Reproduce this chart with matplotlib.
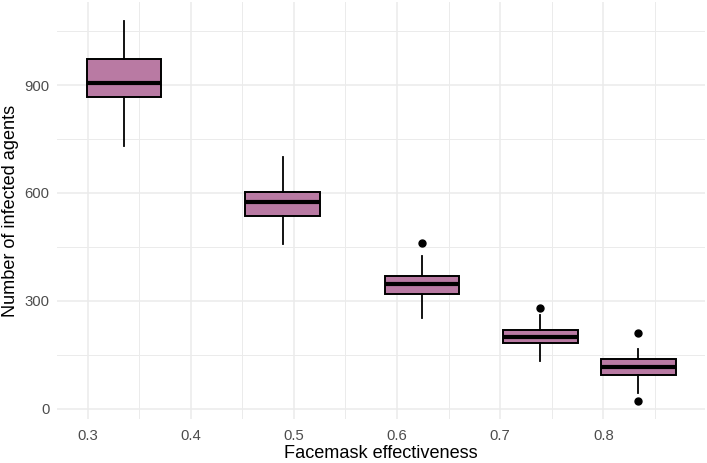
import matplotlib
matplotlib.use('Agg')
import matplotlib.pyplot as plt
import numpy as np

# Boxplot summary values
effectiveness = [0.335, 0.489, 0.624, 0.739, 0.834]
whisker_low = [731, 457, 253, 133, 44]
q1 = [866, 535, 319, 182, 94]
median = [905, 575, 347, 199, 115]
q3 = [972, 602, 368, 218, 137]
whisker_high = [1078, 701, 424, 260, 165]
outliers = [[], [], [462], [279], [211, 23]]

box_width = 0.072
fill_color = '#B97AA3'

plt.rcParams['font.family'] = ['Liberation Sans', 'DejaVu Sans']

stats = []
for i in range(len(effectiveness)):
    stats.append({
        'med': median[i], 'q1': q1[i], 'q3': q3[i],
        'whislo': whisker_low[i], 'whishi': whisker_high[i],
        'fliers': outliers[i],
    })

fig = plt.figure(figsize=(7.07, 4.63), dpi=100)
ax = fig.add_axes([0.0808, 0.094, 0.9163, 0.9016])

ax.bxp(stats, positions=effectiveness, widths=box_width, patch_artist=True,
       manage_ticks=False,
       boxprops=dict(facecolor=fill_color, edgecolor='black', linewidth=1.4),
       medianprops=dict(color='black', linewidth=3.0, solid_capstyle='butt'),
       whiskerprops=dict(color='black', linewidth=1.3),
       capprops=dict(linewidth=0),
       flierprops=dict(marker='o', markerfacecolor='black', markeredgecolor='black',
                       markersize=5),
       zorder=3)

# ggplot-style 5% expansion
lo = min(effectiveness) - box_width / 2
hi = max(effectiveness) + box_width / 2
pad = 0.05 * (hi - lo)
ax.set_xlim(lo - pad, hi + pad)
all_y = whisker_low + whisker_high + [v for o in outliers for v in o]
ymin, ymax = min(all_y), max(all_y)
ypad = 0.05 * (ymax - ymin)
ax.set_ylim(ymin - ypad, ymax + ypad)

ax.set_xticks([0.3, 0.4, 0.5, 0.6, 0.7, 0.8])
ax.set_xticklabels(['0.3', '0.4', '0.5', '0.6', '0.7', '0.8'])
ax.set_xticks([0.35, 0.45, 0.55, 0.65, 0.75, 0.85], minor=True)
ax.set_yticks([0, 300, 600, 900])
ax.set_yticks([150, 450, 750, 1050], minor=True)

ax.grid(True, which='major', color='#EBEBEB', linewidth=1.1, zorder=0)
ax.grid(True, which='minor', color='#EBEBEB', linewidth=0.7, zorder=0)
ax.set_axisbelow(True)
for s in ax.spines.values():
    s.set_visible(False)
ax.tick_params(which='both', length=0)
ax.tick_params(axis='x', labelsize=10.7, labelcolor='#4D4D4D', pad=6.5)
ax.tick_params(axis='y', labelsize=10.7, labelcolor='#4D4D4D', pad=5.5)

ax.set_xlabel('Facemask effectiveness', fontsize=13.1, labelpad=2)
ax.set_ylabel('Number of infected agents', fontsize=13.1, labelpad=4)

fig.savefig('out.png', dpi=100)
